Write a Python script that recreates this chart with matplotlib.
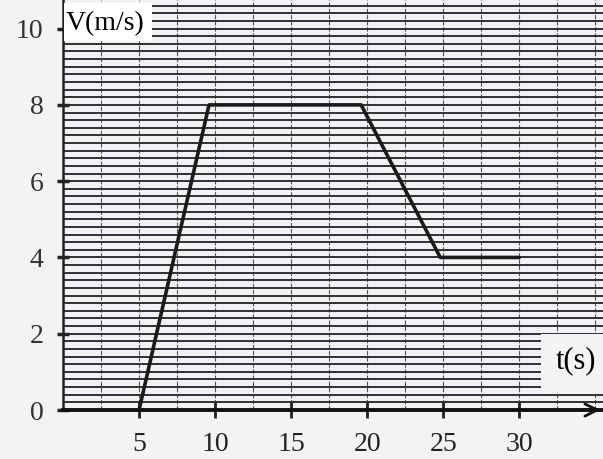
import numpy as np
import matplotlib
matplotlib.use("Agg")
import matplotlib.pyplot as plt
from matplotlib.ticker import MultipleLocator

# data
t_values = [5, 9.6, 19.6, 24.8, 30]
v_values = [0, 8, 8, 4, 4]
x_ticks = [5, 10, 15, 20, 25, 30]
y_ticks = [0, 2, 4, 6, 8, 10]
y_label = "V(m/s)"
x_label = "t(s)"

bg = "#f3f3f1"
fig = plt.figure(figsize=(6.03, 4.59), dpi=100, facecolor=bg)
ax = fig.add_axes([63/603, 49/459, 1 - 63/603, 1 - 49/459])
ax.set_facecolor("#f0f2f6")
ax.set_xlim(0, 35.5)
ax.set_ylim(0, 10.75)

# graph-paper grid
ax.yaxis.set_minor_locator(MultipleLocator(0.2))
ax.xaxis.set_minor_locator(MultipleLocator(2.5))
ax.grid(which="both", axis="y", color="#303030", lw=1.4)
ax.grid(which="both", axis="x", color="#555555", lw=0.8, ls=(0, (4, 1.5)))
ax.set_axisbelow(True)

ax.plot(t_values, v_values, color="#1a1a1a", lw=2.6, solid_capstyle="round", zorder=3)

ax.set_xticks(x_ticks)
ax.set_yticks(y_ticks)
ax.set_xticklabels([str(v) for v in x_ticks], family="Liberation Serif", fontsize=20, color="#222")
ax.set_yticklabels([str(v) for v in y_ticks], family="Liberation Serif", fontsize=20, color="#333")
ax.tick_params(axis="y", which="major", length=8, width=2.5, color="#222", pad=10, direction="inout")
ax.tick_params(axis="x", which="major", length=12, width=2, color="#222", pad=10, direction="inout")
ax.tick_params(which="minor", length=0)

for s in ["top", "right"]:
    ax.spines[s].set_visible(False)
ax.spines["left"].set_color("#222")
ax.spines["left"].set_linewidth(1.8)
ax.spines["bottom"].set_color("#111")
ax.spines["bottom"].set_linewidth(2.8)

# arrow at end of t axis
ax.annotate("", xy=(35.5, 0), xytext=(34.0, 0), xycoords="data",
            arrowprops=dict(arrowstyle="->", color="#111", lw=2, mutation_scale=22),
            annotation_clip=False, zorder=5)

# label boxes
ax.add_patch(plt.Rectangle((0.05, 9.68), 5.8, 0.98, fc="white", ec="none", zorder=4))
ax.text(0.2, 10.13, y_label, family="Liberation Serif", fontsize=20, va="center", ha="left", zorder=6)
ax.add_patch(plt.Rectangle((31.45, 0.45), 5, 1.55, fc="#f4f4f4", ec="none", zorder=4, clip_on=False))
ax.text(32.4, 1.3, x_label, family="Liberation Serif", fontsize=22, va="center", ha="left", zorder=6)

fig.savefig("out.png", dpi=100, facecolor=bg)
